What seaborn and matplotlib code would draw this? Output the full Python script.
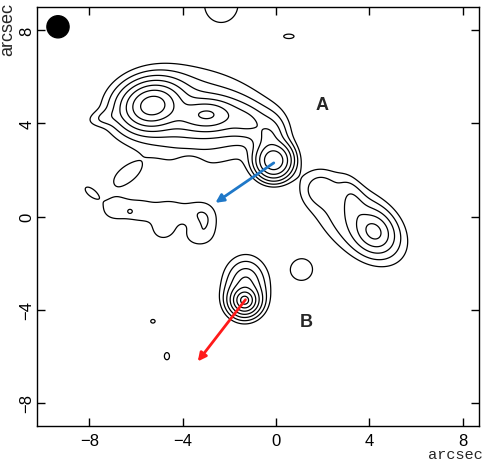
import numpy as np
import matplotlib
matplotlib.use("Agg")
import matplotlib.pyplot as plt
import seaborn as sns
from matplotlib.patches import Ellipse

# ---- data: emission components (arcsec offsets) read from the map ----
# x, y: position; amp: peak level; sx, sy: core widths; pa: angle (deg);
# tail: wing shape (small = gaussian, 1 = exponential wings)
comp_x   = [-5.3, -2.9, -3.3, -1.3, -0.3, -0.1, -7.3, -3.6,
            3.5, 4.2, 3.35, 1.85,
            -1.35, -1.3,
            -6.9, -5.8, -4.6, -3.4, -2.95, -4.85, -3.4, -6.27,
            -6.45, -7.95, 1.1, -2.35, 0.55, -5.28, -4.68, -3.7]
comp_y   = [4.77, 4.4, 4.3, 4.1, 3.4, 2.4, 4.25, 4.3,
            -0.2, -0.65, 0.55, 1.2,
            -3.6, -2.8,
            0.35, 0.25, 0.2, 0.15, -0.3, -0.6, -0.85, 0.2,
            1.75, 1.05, -2.28, 9.1, 7.74, -4.5, -6.0, 2.1]
comp_amp = [100, 22, 12, 7, 7, 55, 1.5, 3.5,
            3.5, 18, 2.5, 2.0,
            90, 8,
            1.5, 1.5, 1.5, 1.4, 1.25, 1.35, 1.25, 0.6,
            1.4, 1.3, 1.5, 1.8, 1.2, 1.05, 1.1, -1.3]
comp_sx  = [0.5, 0.52, 0.81, 0.52, 0.35, 0.36, 0.5, 1.9,
            1.4, 0.43, 0.64, 0.5,
            0.18, 0.34,
            0.5, 0.5, 0.5, 0.5, 0.35, 0.4, 0.45, 0.1,
            0.6, 0.36, 0.5, 0.65, 0.35, 0.3, 0.25, 0.35]
comp_sy  = [0.38, 0.29, 0.35, 0.35, 0.46, 0.36, 0.22, 1.25,
            0.8, 0.35, 0.28, 0.5,
            0.18, 0.4,
            0.42, 0.38, 0.4, 0.4, 0.5, 0.35, 0.35, 0.1,
            0.32, 0.18, 0.5, 0.68, 0.15, 0.25, 0.35, 0.35]
comp_pa  = [10, 0, -5, -20, 0, 0, 10, -6,
            -40, -50, -70, 0,
            0, 0,
            10, 0, 0, 0, 0, 0, 0, 0,
            35, -40, 0, 0, 0, 0, 0, 0]
comp_tail = [0.577, 0.577, 0.577, 0.577, 0.577, 0.3, 0.2, 0.3,
             0.2, 0.577, 0.3, 0.2,
             1.0, 1.0,
             0.2, 0.2, 0.2, 0.2, 0.2, 0.2, 0.2, 0.2,
             0.2, 0.2, 0.2, 0.2, 0.2, 0.2, 0.2, 0.2]

pos_levels = [1, 2, 4, 8, 16, 32, 64]
neg_levels = [-1]
ticks = [-8, -4, 0, 4, 8]
beam_xy = (-9.35, 8.15)
beam_size = 0.95
arrow_A = ((0.0, 2.37), (-2.7, 0.52))
arrow_B = ((-1.24, -3.48), (-3.43, -6.32))
labels = [("A", 1.95, 4.8), ("B", 1.3, -4.5)]

# ---- build the map ----
xg = np.linspace(-10.25, 8.7, 700)
yg = np.linspace(-9.0, 9.0, 660)
X, Y = np.meshgrid(xg, yg)
Z = np.zeros_like(X)
for x0, y0, A, sx, sy, pa, tl in zip(comp_x, comp_y, comp_amp, comp_sx, comp_sy,
                                    comp_pa, comp_tail):
    t = np.deg2rad(pa)
    u = (X - x0) * np.cos(t) + (Y - y0) * np.sin(t)
    v = -(X - x0) * np.sin(t) + (Y - y0) * np.cos(t)
    q = (u / sx) ** 2 + (v / sy) ** 2
    Z += A * np.exp(-(np.sqrt(1 + q * tl**2) - 1) / tl**2)

sns.set_theme(style="ticks")
plt.rcParams['font.family'] = ['Liberation Sans', 'DejaVu Sans']

fig = plt.figure(figsize=(4.91, 4.64), dpi=100)
ax = fig.add_axes([37/491, 1-427/464, (479-37)/491, (427-8)/464])

ax.contour(X, Y, Z, levels=pos_levels, colors="black", linewidths=0.9)
ax.contour(X, Y, Z, levels=neg_levels, colors="black", linewidths=0.9, linestyles="dashed")

ax.add_patch(Ellipse(beam_xy, beam_size, beam_size, color="black"))

ax.annotate("", xy=arrow_A[1], xytext=arrow_A[0],
            arrowprops=dict(arrowstyle="-|>", color="#1f78c8", lw=2, mutation_scale=12))
ax.annotate("", xy=arrow_B[1], xytext=arrow_B[0],
            arrowprops=dict(arrowstyle="-|>", color="#ff1a1a", lw=2, mutation_scale=12))
for s, lx, ly in labels:
    ax.text(lx, ly, s, fontsize=13, fontweight="bold", ha="center", va="center")

ax.set_xlim(-10.25, 8.7)
ax.set_ylim(-9.0, 9.0)
ax.set_xticks(ticks)
ax.set_yticks(ticks)
ax.tick_params(direction="in", length=6, width=1, top=True, right=True,
               labelsize=12, colors="black", pad=5)
ax.tick_params(axis="y", pad=2)
for lab in ax.get_yticklabels():
    lab.set_rotation(90)
    lab.set_va("center")
for sp in ax.spines.values():
    sp.set_linewidth(1)
    sp.set_color("black")

fig.text(8/491, 1-30/464, "arcsec", rotation=90, fontsize=13, ha="center", va="center")
fig.text(455/491, 1-455/464, "arcsec", fontsize=11, ha="center", va="center",
         family="Liberation Mono")

fig.savefig("out.png", dpi=100, facecolor="white")
